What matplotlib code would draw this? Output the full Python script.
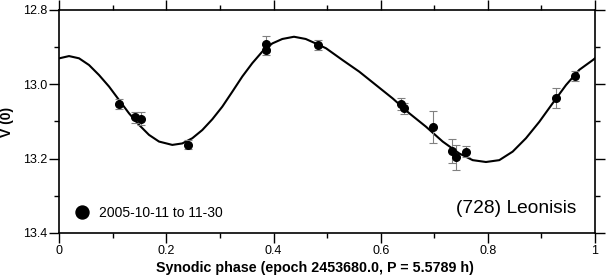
import matplotlib

matplotlib.use("Agg")
import matplotlib.pyplot as plt
from matplotlib.ticker import FixedLocator, MultipleLocator

plt.rcParams["font.family"] = ["Liberation Sans", "DejaVu Sans"]

# observed points (synodic phase, V(0) mag, error)
phase = [0.111, 0.1415, 0.153, 0.241, 0.385, 0.386, 0.482, 0.637, 0.643,
         0.698, 0.734, 0.741, 0.760, 0.927, 0.963]
mag = [13.053, 13.089, 13.092, 13.162, 12.891, 12.908, 12.895, 13.052, 13.065,
       13.115, 13.179, 13.196, 13.181, 13.036, 12.977]
mag_err = [0.014, 0.015, 0.017, 0.011, 0.022, 0.013, 0.013, 0.016, 0.015,
           0.042, 0.033, 0.034, 0.014, 0.027, 0.013]

# fitted lightcurve
fit_phase = [0.0, 0.0181, 0.0368, 0.0554, 0.0741, 0.0928, 0.1114, 0.1301,
             0.1488, 0.1674, 0.1861, 0.2109, 0.2296, 0.2483, 0.2669, 0.2856,
             0.3043, 0.3229, 0.3416, 0.3603, 0.3789, 0.3976, 0.4163, 0.4381,
             0.4600, 0.4786, 0.4979, 0.5290, 0.5600, 0.5912, 0.6224, 0.6534,
             0.6845, 0.7157, 0.7467, 0.7717, 0.7965, 0.8214, 0.8464, 0.8712,
             0.8960, 0.9210, 0.9459, 0.9707, 0.9957, 1.0]
fit_mag = [12.930, 12.924, 12.930, 12.948, 12.975, 13.006, 13.042, 13.078,
           13.109, 13.136, 13.154, 13.163, 13.159, 13.145, 13.123, 13.094,
           13.060, 13.020, 12.979, 12.943, 12.912, 12.890, 12.878, 12.872,
           12.878, 12.890, 12.903, 12.935, 12.966, 13.002, 13.038, 13.078,
           13.114, 13.154, 13.186, 13.204, 13.209, 13.204, 13.181, 13.145,
           13.101, 13.051, 13.002, 12.961, 12.935, 12.930]

x_ticks = [0, 0.2, 0.4, 0.6, 0.8, 1.0]
x_tick_labels = ["0", "0.2", "0.4", "0.6", "0.8", "1"]
y_ticks = [12.8, 13.0, 13.2, 13.4]
y_tick_labels = ["12.8", "13.0", "13.2", "13.4"]

legend_label = "2005-10-11 to 11-30"
object_name = "(728) Leonisis"


def main() -> None:
    fig = plt.figure(figsize=(6.06, 2.79), dpi=100)
    ax = fig.add_axes([0.0979, 0.1649, 0.9818 - 0.0979, 0.9642 - 0.1649])

    ax.plot(fit_phase, fit_mag, color="black", lw=1.5, zorder=2)
    ax.errorbar(phase, mag, yerr=mag_err, fmt="none", ecolor="#808080",
                elinewidth=0.8, capsize=3.2, capthick=0.8, zorder=3)
    ax.plot(phase, mag, "o", color="black", ms=5.5, label=legend_label, zorder=4)

    ax.set_xlim(0, 1)
    ax.set_ylim(13.4, 12.8)
    ax.xaxis.set_major_locator(FixedLocator(x_ticks))
    ax.set_xticklabels(x_tick_labels)
    ax.xaxis.set_minor_locator(MultipleLocator(0.1))
    ax.yaxis.set_major_locator(FixedLocator(y_ticks))
    ax.set_yticklabels(y_tick_labels)
    ax.yaxis.set_minor_locator(MultipleLocator(0.1))

    ax.tick_params(which="both", direction="out", top=True, right=True,
                   width=1.0, labelsize=9, pad=2)
    ax.tick_params(which="major", length=7)
    ax.tick_params(which="minor", length=3.5)
    for spine in ax.spines.values():
        spine.set_linewidth(1.2)

    ax.set_xlabel("Synodic phase (epoch 2453680.0, P = 5.5789 h)",
                  fontsize=10.3, fontweight="bold")
    ax.xaxis.set_label_coords(0.477, -0.125)
    ax.set_ylabel("V (0)", fontsize=10, fontweight="bold", labelpad=6)

    ax.legend(loc="center left", bbox_to_anchor=(0.030, 0.0897), frameon=False,
              borderpad=0, borderaxespad=0, handlelength=1.0, handletextpad=0.7,
              markerscale=1.7, fontsize=10)
    ax.text(0.9645, 0.1076, object_name, transform=ax.transAxes,
            ha="right", va="center", fontsize=13.8)

    fig.savefig("out.png", dpi=100)
    plt.close(fig)


if __name__ == "__main__":
    main()
